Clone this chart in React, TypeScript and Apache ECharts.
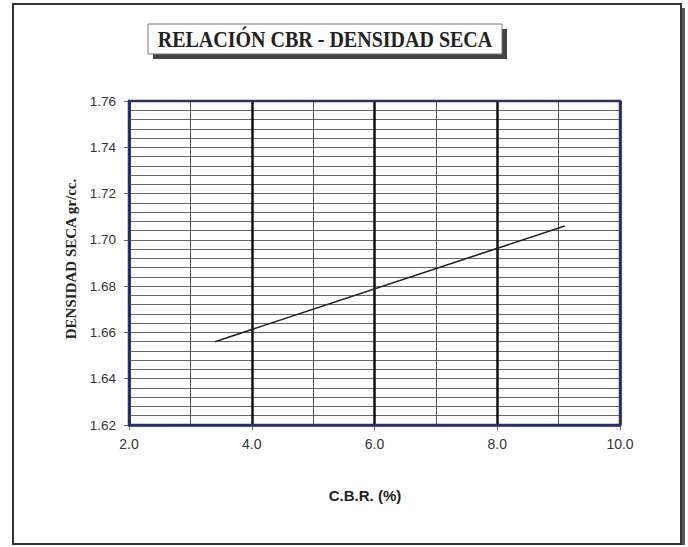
import React, { useEffect, useRef } from "react";
import * as echarts from "echarts";

const titleText = "RELACIÓN CBR - DENSIDAD SECA";
const xAxisTitle = "C.B.R. (%)";
const yAxisTitle = "DENSIDAD SECA gr/cc.";
// CBR (%) vs dry density (gr/cc) – fitted line end points
const cbrValues = [3.4, 9.1];
const densityValues = [1.656, 1.706];
const xRange = [2, 10];
const yRange = [1.62, 1.76];

const serif = "'Liberation Serif', 'Times New Roman', serif";
const sans = "'Liberation Sans', Arial, sans-serif";

export default function App() {
  const ref = useRef<HTMLDivElement>(null);
  useEffect(() => {
    if (!ref.current) return;
    const chart = echarts.init(ref.current, null, { renderer: "svg" });
    const navy = "#24306e";
    chart.setOption({
      animation: false,
      backgroundColor: "#ffffff",
      grid: {
        left: 129,
        right: 68,
        top: 101,
        bottom: 122,
        show: true,
        borderColor: navy,
        borderWidth: 2.5,
        backgroundColor: "transparent",
        z: 3,
      },
      xAxis: {
        type: "value",
        min: xRange[0],
        max: xRange[1],
        interval: 2,
        axisLine: { show: true, lineStyle: { color: navy, width: 2.5 } },
        axisTick: { show: true, length: 5, lineStyle: { color: "#666", width: 1 } },
        axisLabel: {
          margin: 12,
          fontFamily: sans,
          fontSize: 14,
          color: "#333",
          formatter: (v: number) => v.toFixed(1),
        },
        splitLine: { show: true, lineStyle: { color: "#111", width: 2.5 } },
        minorTick: { show: false, splitNumber: 2 },
        minorSplitLine: { show: true, lineStyle: { color: "#555", width: 1 } },
      },
      yAxis: {
        type: "value",
        min: yRange[0],
        max: yRange[1],
        interval: 0.02,
        axisLine: { show: true, lineStyle: { color: navy, width: 2.5 } },
        axisTick: { show: true, length: 5, lineStyle: { color: "#666", width: 1 } },
        axisLabel: {
          margin: 13,
          fontFamily: sans,
          fontSize: 13.5,
          color: "#333",
          formatter: (v: number) => v.toFixed(2),
        },
        splitLine: { show: true, lineStyle: { color: "#666", width: 1 } },
        minorTick: { show: false, splitNumber: 5 },
        minorSplitLine: { show: true, lineStyle: { color: "#666", width: 1 } },
      },
      series: [
        {
          type: "line",
          data: cbrValues.map((c, i) => [c, densityValues[i]]),
          showSymbol: false,
          lineStyle: { color: "#222", width: 1.6 },
          z: 5,
        },
      ],
      graphic: [
        { type: "rect", shape: { x: 681, y: 8, width: 4, height: 537 }, style: { fill: "#555" }, z: 1 },
        { type: "rect", shape: { x: 13, y: 4, width: 668, height: 540 }, style: { fill: "none", stroke: "#333", lineWidth: 2 }, z: 1 },
        { type: "rect", shape: { x: 153, y: 29, width: 354, height: 30 }, style: { fill: "#444" }, z: 10 },
        { type: "rect", shape: { x: 148, y: 24, width: 354, height: 30 }, style: { fill: "#fff", stroke: "#777", lineWidth: 1 }, z: 11 },
        {
          type: "text",
          x: 325,
          y: 40,
          scaleX: 0.87,
          z: 12,
          style: {
            text: titleText,
            align: "center",
            verticalAlign: "middle",
            fontFamily: serif,
            fontWeight: "bold",
            fontSize: 23,
            fill: "#222",
          },
        },
        {
          type: "text",
          x: 71,
          y: 259,
          rotation: Math.PI / 2,
          z: 12,
          style: {
            text: yAxisTitle,
            align: "center",
            verticalAlign: "middle",
            fontFamily: serif,
            fontWeight: "bold",
            fontSize: 15,
            fill: "#222",
          },
        },
        {
          type: "text",
          x: 365,
          y: 495,
          z: 12,
          style: {
            text: xAxisTitle,
            align: "center",
            verticalAlign: "middle",
            fontFamily: sans,
            fontWeight: "bold",
            fontSize: 15,
            fill: "#222",
          },
        },
      ],
    });
    return () => chart.dispose();
  }, []);
  return <div ref={ref} style={{ width: 688, height: 547, position: "absolute", left: 0, top: 0 }} />;
}
